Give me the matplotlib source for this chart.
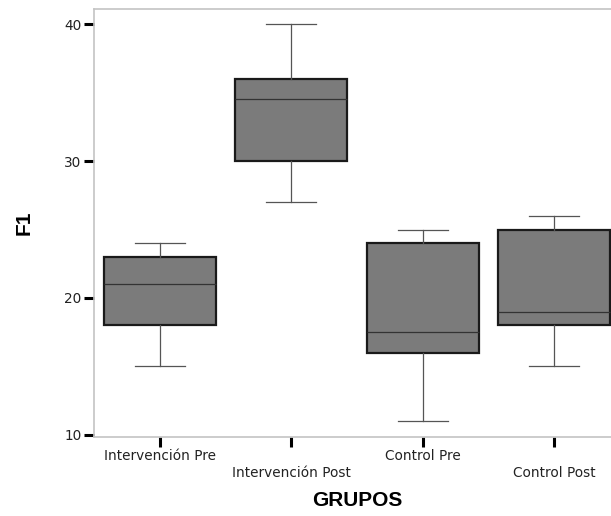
import matplotlib.pyplot as plt

groups = ['Intervención Pre', 'Intervención Post', 'Control Pre', 'Control Post']
whislo = [15, 27, 11, 15]
q1 = [18, 30, 16, 18]
med = [21, 34.5, 17.5, 19]
q3 = [23, 36, 24, 25]
whishi = [24, 40, 25, 26]

plt.rcParams['font.family'] = ['DejaVu Sans']

fig = plt.figure(figsize=(6.11, 5.16), dpi=100)
ax = fig.add_axes([94 / 611, 79 / 516, 526 / 611, 428 / 516])

stats = []
for i in range(len(groups)):
    stats.append({'label': groups[i], 'whislo': whislo[i], 'q1': q1[i], 'med': med[i],
                  'q3': q3[i], 'whishi': whishi[i], 'fliers': []})

ax.bxp(stats, positions=range(len(groups)), widths=0.855, capwidths=0.38,
       patch_artist=True, showfliers=False,
       boxprops=dict(facecolor='#7b7b7b', edgecolor='#1a1a1a', linewidth=1.6),
       medianprops=dict(color='#333333', linewidth=0.9),
       whiskerprops=dict(color='#555555', linewidth=0.9),
       capprops=dict(color='#555555', linewidth=0.9))

ax.set_xlim(-0.5, 3.5)
ax.set_ylim(9.85, 41.1)
ax.set_yticks([10, 20, 30, 40])
ax.set_xticks(range(len(groups)))
ax.set_xticklabels([g if i % 2 == 0 else '\n' + g for i, g in enumerate(groups)])

for s in ax.spines.values():
    s.set_color('#c4c4c4')
    s.set_linewidth(1.2)

ax.tick_params(axis='both', color='black', width=2.2, length=7, labelsize=9.8,
               labelcolor='#222222', pad=2)
ax.tick_params(axis='x', pad=2)

ax.set_xlabel('GRUPOS', fontsize=15, fontweight='bold', labelpad=8,
              family='Liberation Sans')
ax.set_ylabel('F1', fontsize=15, fontweight='bold', labelpad=22,
              family='Liberation Sans')

fig.savefig('out.png', dpi=100)
